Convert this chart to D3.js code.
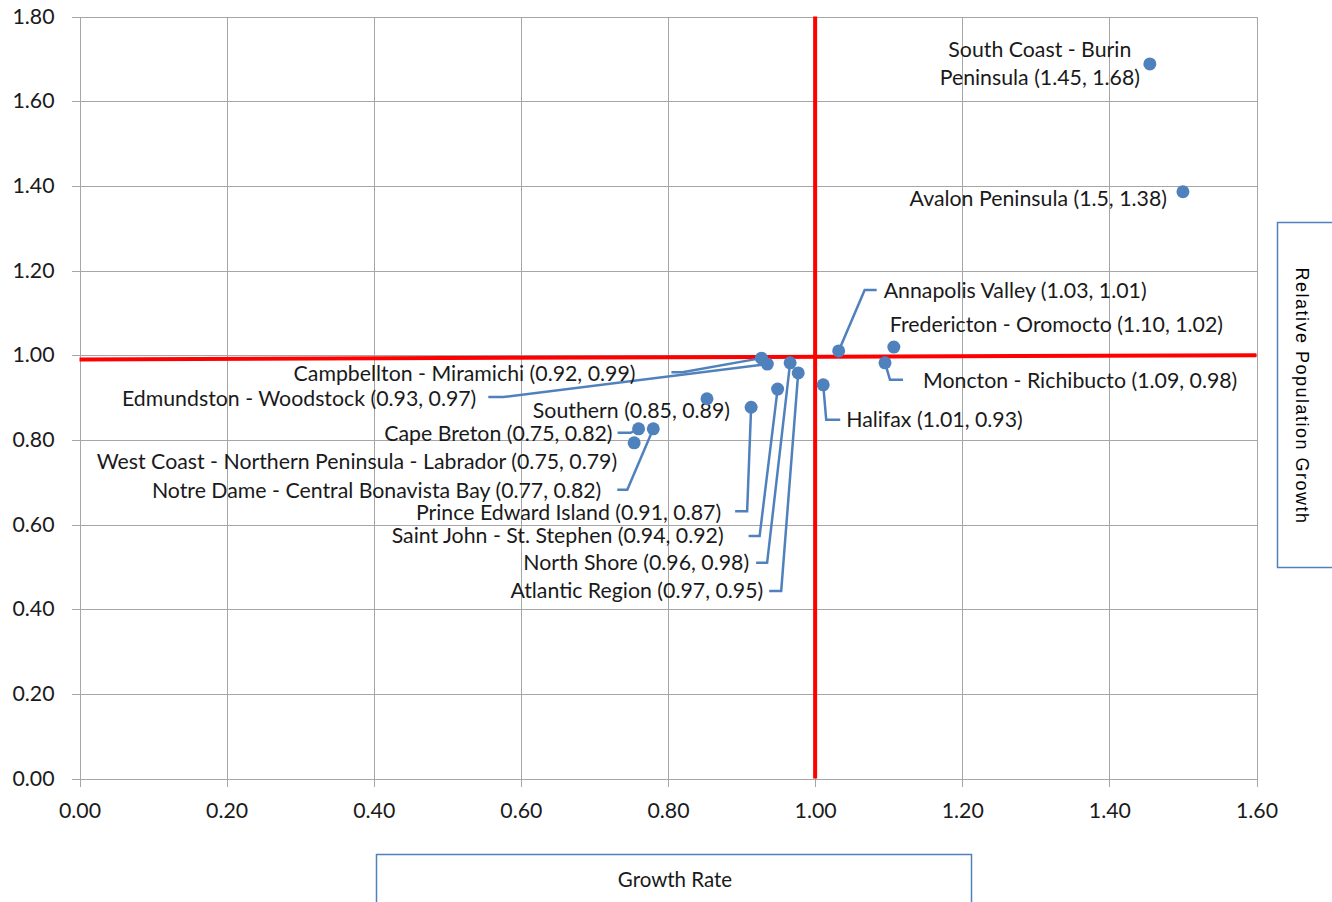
<!DOCTYPE html>
<html>
	<head>
		<script src="https://cdn.jsdelivr.net/npm/d3@7/dist/d3.min.js" charset="UTF-8"></script>
		<style type="text/css">
			body { margin: 0; background: #fff; }
			.grid line { stroke: #a6a6a6; stroke-width: 1; shape-rendering: crispEdges; }
			.grid path { display: none; }
			.grid text, .lbl, .xtitle { font-family: Lato, "Open Sans", sans-serif; font-size: 21.3px; fill: #1a1a1a; }
			.xtitle { font-size: 20.5px; }
			.ytitle { font-family: "Liberation Sans", Arial, sans-serif; font-size: 18px; letter-spacing: 1.5px; fill: #000; }
			.leader { fill: none; stroke: #4f81bd; stroke-width: 2.5; }
			.ref { stroke: #ff0000; stroke-width: 4; fill: none; }
			.titlebox { fill: #fff; stroke: #4f81bd; stroke-width: 1.5; }
		</style>
	</head>
	<body>
		<script type="text/javascript">
			var width = 1332;
			var height = 902;
			var fontSize = 21.3;

			// regions (in drawing order) and their values
			var regions = ["South Coast - Burin Peninsula", "Avalon Peninsula", "Annapolis Valley",
				"Fredericton - Oromocto", "Moncton - Richibucto", "Halifax", "Campbellton - Miramichi",
				"Edmundston - Woodstock", "Southern", "Cape Breton", "West Coast - Northern Peninsula - Labrador",
				"Notre Dame - Central Bonavista Bay", "Prince Edward Island", "Saint John - St. Stephen",
				"North Shore", "Atlantic Region"];
			var growthRate = [1.455, 1.500, 1.032, 1.107, 1.095, 1.011, 0.927, 0.935, 0.853, 0.760, 0.754, 0.780, 0.913, 0.949, 0.966, 0.977];
			var relGrowth = [1.688, 1.386, 1.010, 1.019, 0.982, 0.930, 0.993, 0.979, 0.897, 0.826, 0.793, 0.826, 0.877, 0.920, 0.982, 0.958];
			var valueText = ["(1.45, 1.68)", "(1.5, 1.38)", "(1.03, 1.01)", "(1.10, 1.02)", "(1.09, 0.98)",
				"(1.01, 0.93)", "(0.92, 0.99)", "(0.93, 0.97)", "(0.85, 0.89)", "(0.75, 0.82)", "(0.75, 0.79)",
				"(0.77, 0.82)", "(0.91, 0.87)", "(0.94, 0.92)", "(0.96, 0.98)", "(0.97, 0.95)"];

			var xTicks = [0, 0.2, 0.4, 0.6, 0.8, 1.0, 1.2, 1.4, 1.6];
			var yTicks = [0, 0.2, 0.4, 0.6, 0.8, 1.0, 1.2, 1.4, 1.6, 1.8];
			var refV = [[1, 0], [1, 1.8]];
			var refH = [[0, 0.99], [1.6, 1.0]];

			// label placement: text offset from the dot, anchor, leader elbow offset and tail length
			var labelLayout = [
				{dx: -110, dy: 0, anchor: "middle", lines: ["South Coast - Burin", "Peninsula (1.45, 1.68)"]},
				{dx: -16, dy: 7, anchor: "end"},
				{dx: 45, dy: -60, anchor: "start", elbow: [26, -61], tail: 12},
				{dx: -4, dy: -23, anchor: "start"},
				{dx: 38, dy: 18, anchor: "start", elbow: [5, 17], tail: 13},
				{dx: 23, dy: 35, anchor: "start", elbow: [3, 35], tail: 14},
				{dx: -126, dy: 15, anchor: "end", elbow: [-79, 14], tail: -11},
				{dx: -291, dy: 34, anchor: "end", elbow: [-264, 33], tail: -15},
				{dx: 23, dy: 12, anchor: "end"},
				{dx: -26, dy: 5, anchor: "end", elbow: [-8, 4], tail: -13},
				{dx: -17, dy: 19, anchor: "end"},
				{dx: -52, dy: 62, anchor: "end", elbow: [-26, 61], tail: -10},
				{dx: -30, dy: 105, anchor: "end", elbow: [-4, 104], tail: -12},
				{dx: -54, dy: 147, anchor: "end", elbow: [-18, 147], tail: -11},
				{dx: -41, dy: 200, anchor: "end", elbow: [-23, 200], tail: -11},
				{dx: -35, dy: 218, anchor: "end", elbow: [-17, 218], tail: -12}
			];

			var svg = d3.select("body")
				.append("svg")
				.attr("width", width)
				.attr("height", height);

			var xScale = d3.scaleLinear().domain([0, 1.6]).range([79.5, 1256.5]);
			var yScale = d3.scaleLinear().domain([0, 1.8]).range([778.5, 16.5]);
			var plotW = xScale(1.6) - xScale(0);
			var plotH = yScale(0) - yScale(1.8);

			// gridlines double as the axes: ticks stick out 8px past the plot
			svg.append("g")
				.attr("class", "grid")
				.attr("transform", "translate(" + xScale(1.6) + ",0)")
				.call(d3.axisLeft(yScale).tickValues(yTicks).tickFormat(d3.format(".2f"))
					.tickSize(plotW + 8).tickSizeOuter(0).tickPadding(17));

			svg.append("g")
				.attr("class", "grid")
				.attr("transform", "translate(0," + yScale(1.8) + ")")
				.call(d3.axisBottom(xScale).tickValues(xTicks).tickFormat(d3.format(".2f"))
					.tickSize(plotH + 8).tickSizeOuter(0).tickPadding(16));

			var line = d3.line().x(function(d) { return xScale(d[0]); }).y(function(d) { return yScale(d[1]); });
			svg.append("path").attr("class", "ref").attr("d", line(refH));
			svg.append("path").attr("class", "ref").attr("d", line(refV));

			var points = regions.map(function(name, i) {
				return {name: name, x: growthRate[i], y: relGrowth[i], text: name + " " + valueText[i], lay: labelLayout[i]};
			});

			// leader lines
			svg.append("g").selectAll("path")
				.data(points.filter(function(p) { return p.lay.elbow; }))
				.join("path")
				.attr("class", "leader")
				.attr("d", function(p) {
					var px = xScale(p.x), py = yScale(p.y);
					var ex = px + p.lay.elbow[0], ey = py + p.lay.elbow[1];
					return "M" + px + "," + py + "L" + ex + "," + ey + "L" + (ex + p.lay.tail) + "," + ey;
				});

			// labels
			var labels = svg.append("g").selectAll("text")
				.data(points)
				.join("text")
				.attr("class", "lbl")
				.attr("text-anchor", function(p) { return p.lay.anchor; })
				.attr("x", function(p) { return xScale(p.x) + p.lay.dx; })
				.attr("y", function(p) { return yScale(p.y) + p.lay.dy; });

			labels.each(function(p) {
				var t = d3.select(this);
				var lines = p.lay.lines || [p.text];
				var lh = 28;
				lines.forEach(function(s, k) {
					t.append("tspan")
						.attr("x", xScale(p.x) + p.lay.dx)
						.attr("dy", k === 0 ? (0.35 * fontSize - (lines.length - 1) * lh / 2) + "px" : lh + "px")
						.text(s);
				});
			});

			// dots
			svg.append("g").selectAll("circle")
				.data(points)
				.join("circle")
				.attr("cx", function(p) { return xScale(p.x); })
				.attr("cy", function(p) { return yScale(p.y); })
				.attr("r", 6.5)
				.attr("fill", "#4f81bd");

			// axis title boxes
			svg.append("rect").attr("class", "titlebox")
				.attr("x", 376.5).attr("y", 854.5).attr("width", 595).attr("height", 60);
			svg.append("text").attr("class", "xtitle")
				.attr("x", 675).attr("y", 887).attr("text-anchor", "middle")
				.text("Growth Rate");

			svg.append("rect").attr("class", "titlebox")
				.attr("x", 1277.5).attr("y", 222.5).attr("width", 70).attr("height", 345);
			svg.append("text").attr("class", "ytitle")
				.attr("text-anchor", "middle")
				.attr("transform", "translate(1296,396) rotate(90)")
				.text("Relative Population Growth");
		</script>
	</body>
</html>
